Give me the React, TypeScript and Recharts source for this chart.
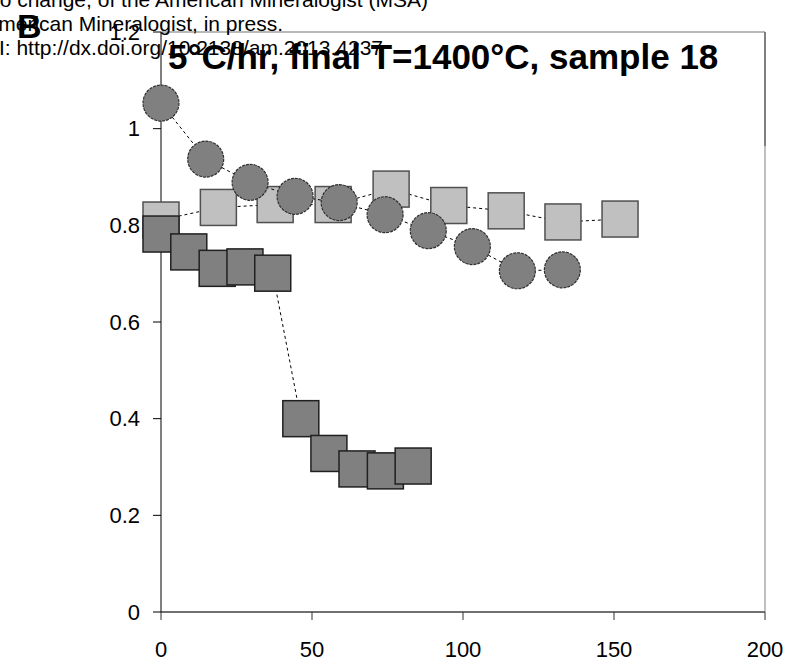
import { ReferenceLine, Scatter, ScatterChart, XAxis, YAxis } from "recharts";

// time (hr) vs. normalised value
const circleX = [0, 14.8, 29.5, 44.4, 59.0, 74.2, 88.5, 103.1, 118.0, 132.9];
const circleY = [1.053, 0.937, 0.889, 0.86, 0.847, 0.822, 0.789, 0.756, 0.706, 0.708];

const lightSquareX = [0, 19.0, 37.8, 57.0, 76.2, 95.3, 114.3, 133.1, 152.0];
const lightSquareY = [0.811, 0.837, 0.843, 0.843, 0.875, 0.841, 0.83, 0.807, 0.813];

const darkSquareX = [0, 9.2, 18.6, 27.8, 37.0, 46.3, 55.6, 64.9, 74.3, 83.5];
const darkSquareY = [0.782, 0.745, 0.711, 0.714, 0.701, 0.4, 0.328, 0.296, 0.292, 0.302];

const xTicks = [0, 50, 100, 150, 200];
const yTicks = [0, 0.2, 0.4, 0.6, 0.8, 1, 1.2];

const title = "5°C/hr, final T=1400°C, sample 18";
const panelLabel = "B";
const watermark = [
  "This is a preprint, the final version is subject to change, of the American Mineralogist (MSA)",
  "Cite as Authors (Year) Title. American Mineralogist, in press.",
  "(DOI will not work until issue is live.) DOI: http://dx.doi.org/10.2138/am.2013.4237",
];

const FONT = "'Liberation Sans', Arial, sans-serif";
const W = 789;
const H = 662;

const toPoints = (xs: number[], ys: number[]) => xs.map((x, i) => ({ x, y: ys[i] }));

const dashedLine = { stroke: "#000", strokeWidth: 1, strokeDasharray: "3 3" };

function square(fill: string, stroke: string) {
  return (props: any) => (
    <rect
      x={props.cx - 18}
      y={props.cy - 18}
      width={36}
      height={36}
      fill={fill}
      stroke={stroke}
      strokeWidth={1.5}
    />
  );
}

function disc(props: any) {
  return (
    <circle
      cx={props.cx}
      cy={props.cy}
      r={18}
      fill="#808080"
      stroke="#303030"
      strokeWidth={1.2}
      strokeDasharray="3 1"
    />
  );
}

export default function App() {
  const tick = { fill: "#000", fontSize: 22, fontFamily: FONT };
  return (
    <div style={{ position: "absolute", left: 0, top: 0, width: W, height: H, background: "#fff" }}>
      <ScatterChart width={W} height={H} margin={{ top: 32, right: 24, bottom: 0, left: 0 }}>
        <XAxis
          type="number"
          dataKey="x"
          domain={[0, 200]}
          ticks={xTicks}
          tick={tick}
          tickSize={8}
          tickMargin={21}
          height={50}
          axisLine={{ stroke: "#707070", strokeWidth: 2 }}
          tickLine={{ stroke: "#303030" }}
        />
        <YAxis
          type="number"
          dataKey="y"
          domain={[0, 1.2]}
          ticks={yTicks}
          tick={tick}
          tickSize={8}
          tickMargin={13}
          width={161}
          axisLine={{ stroke: "#000" }}
          tickLine={{ stroke: "#000" }}
        />
        <ReferenceLine y={1.2} stroke="#a0a0a0" strokeWidth={1.5} />
        <ReferenceLine
          segment={[{ x: 200, y: 1.2 }, { x: 200, y: 0.963 }]}
          stroke="#808080"
          strokeWidth={2}
        />
        <ReferenceLine
          segment={[{ x: 200, y: 0.963 }, { x: 200, y: 0 }]}
          stroke="#c0c0c0"
          strokeWidth={2}
        />
        <Scatter
          data={toPoints(lightSquareX, lightSquareY)}
          line={dashedLine}
          lineType="joint"
          shape={square("#c0c0c0", "#505050")}
          isAnimationActive={false}
        />
        <Scatter
          data={toPoints(darkSquareX, darkSquareY)}
          line={dashedLine}
          lineType="joint"
          shape={square("#808080", "#202020")}
          isAnimationActive={false}
        />
        <Scatter
          data={toPoints(circleX, circleY)}
          line={dashedLine}
          lineType="joint"
          shape={disc}
          isAnimationActive={false}
        />
      </ScatterChart>
      <svg
        width={W}
        height={H}
        style={{ position: "absolute", left: 0, top: 0, pointerEvents: "none", overflow: "hidden" }}
      >
        <text x={428} y={7} textAnchor="end" fontSize={21} fontFamily={FONT} fill="#000">
          {watermark[0]}
        </text>
        <text x={283} y={31} textAnchor="end" fontSize={21} fontFamily={FONT} fill="#000">
          {watermark[1]}
        </text>
        <text x={383} y={55} textAnchor="end" fontSize={21} fontFamily={FONT} fill="#000">
          {watermark[2]}
        </text>
        <text x={17} y={37.5} fontSize={34} fontWeight="bold" fontFamily={FONT} fill="#000">
          {panelLabel}
        </text>
        <text x={168} y={69} fontSize={35} fontWeight="bold" fontFamily={FONT} fill="#000">
          {title}
        </text>
      </svg>
    </div>
  );
}
